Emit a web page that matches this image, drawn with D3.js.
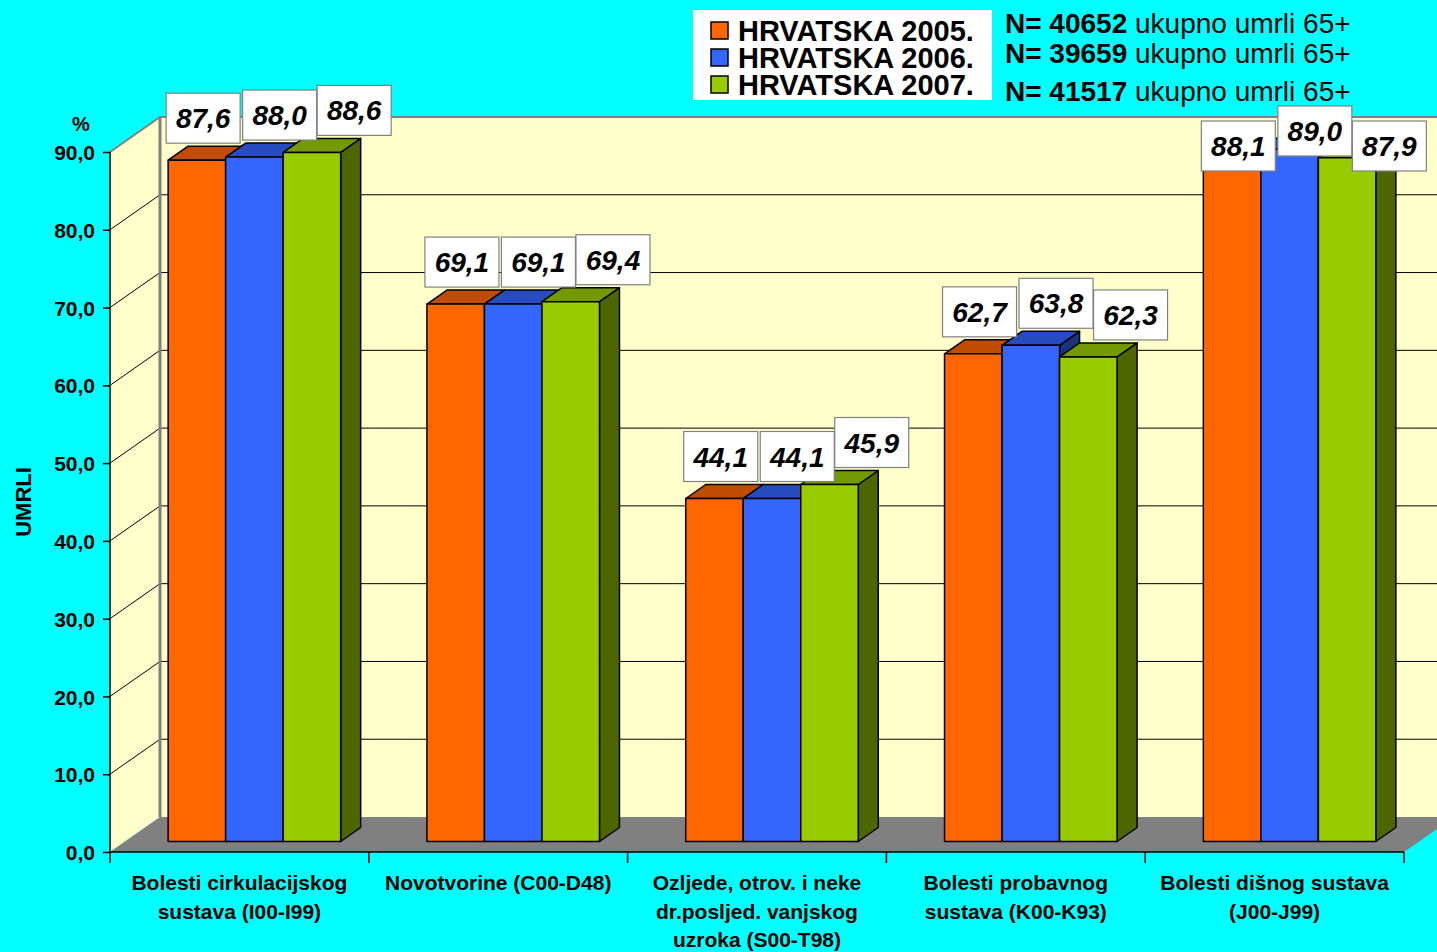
<!DOCTYPE html>
<html><head><meta charset="utf-8">
<script src="https://cdn.jsdelivr.net/npm/d3@7"></script>
<style>
html,body{margin:0;padding:0;background:#00FFFF;overflow:hidden;}
svg{display:block;}
svg text{font-family:"Liberation Sans",Arial,sans-serif;}
</style></head>
<body>
<svg id="c" width="1437" height="952"></svg>
<script>
// ---- data ----
const categories = [
  ["Bolesti cirkulacijskog", "sustava (I00-I99)"],
  ["Novotvorine (C00-D48)"],
  ["Ozljede, otrov. i neke", "dr.posljed. vanjskog", "uzroka (S00-T98)"],
  ["Bolesti probavnog", "sustava (K00-K93)"],
  ["Bolesti dišnog sustava", "(J00-J99)"]
];
const seriesNames = ["HRVATSKA 2005.", "HRVATSKA 2006.", "HRVATSKA 2007."];
const values2005 = [87.6, 69.1, 44.1, 62.7, 88.1];
const values2006 = [88.0, 69.1, 44.1, 63.8, 89.0];
const values2007 = [88.6, 69.4, 45.9, 62.3, 87.9];
const notesBold = ["N= 40652", "N= 39659", "N= 41517"];
const notesRest = ["ukupno umrli 65+", "ukupno umrli 65+", "ukupno umrli 65+"];
const yTicks = [0, 10, 20, 30, 40, 50, 60, 70, 80, 90];
const yUnit = "%";
const yTitle = "UMRLI";

// ---- styles ----
const seriesValues = [values2005, values2006, values2007];
const frontCol = ["#FF6600", "#3366FF", "#99CC00"];
const topCol   = ["#BF4C00", "#264CBF", "#739900"];
const sideCol  = ["#803300", "#1A3380", "#4D6600"];
const fmt = v => v.toFixed(1).replace(".", ",");

const svg = d3.select("#c");
const W = 1437, H = 952;
const DX = 50, DY = -35;          // wall depth
const BOFX = 15, BOFY = -10.5;    // bar offset into depth
const BDX = 20, BDY = -14;        // bar depth

const y = d3.scaleLinear().domain([0, 90]).range([852, 152]);
const x = d3.scaleBand().domain(d3.range(categories.length)).range([110, 1404]);
const xs = d3.scaleBand().domain(d3.range(3)).range([0, x.bandwidth()]).paddingOuter(0.75).paddingInner(0);

const X0 = 110, X1 = 1404, Y0 = y(0), YT = y(90);

// background
svg.append("rect").attr("width", W).attr("height", H).attr("fill", "#00FFFF");

// back wall
svg.append("rect").attr("x", X0 + DX).attr("y", YT + DY).attr("width", X1 - X0 + 10).attr("height", Y0 - YT)
  .attr("fill", "#FFFFCC");
// left wall
svg.append("polygon").attr("points", [[X0, Y0], [X0, YT], [X0 + DX, YT + DY], [X0 + DX, Y0 + DY]].join(" "))
  .attr("fill", "#FFFFCC");

// gridlines
const gl = svg.append("g");
yTicks.filter(t => t > 0 && t < 90).forEach(t => {
  gl.append("line").attr("x1", X0 + DX).attr("x2", W + 20).attr("y1", y(t) + DY).attr("y2", y(t) + DY)
    .attr("stroke", "#000").attr("stroke-width", 1);
  gl.append("line").attr("x1", X0).attr("y1", y(t)).attr("x2", X0 + DX).attr("y2", y(t) + DY)
    .attr("stroke", "#000").attr("stroke-width", 1);
});
// wall edges (gray)
svg.append("polyline").attr("points", [[X0, YT], [X0 + DX, YT + DY], [W + 20, YT + DY]].join(" "))
  .attr("fill", "none").attr("stroke", "#808080").attr("stroke-width", 2);
svg.append("line").attr("x1", X0 + DX).attr("x2", X0 + DX).attr("y1", YT + DY).attr("y2", Y0 + DY)
  .attr("stroke", "#808080").attr("stroke-width", 3);

// floor
svg.append("polygon").attr("points", [[X0, Y0], [X0 + DX, Y0 + DY], [X1 + DX, Y0 + DY], [X1, Y0]].join(" "))
  .attr("fill", "#808080");

// bars
const bars = svg.append("g");
categories.forEach((c, i) => {
  for (let s = 0; s < 3; s++) {
    const v = seriesValues[s][i];
    const bx = x(i) + xs(s) + BOFX, w = xs.bandwidth();
    const b0 = y(0) + BOFY, b1 = y(v) + BOFY;
    const g = bars.append("g").attr("stroke", "#000").attr("stroke-width", 1.5).attr("stroke-linejoin", "round");
    g.append("polygon").attr("fill", sideCol[s])
      .attr("points", [[bx + w, b1], [bx + w + BDX, b1 + BDY], [bx + w + BDX, b0 + BDY], [bx + w, b0]].join(" "));
    g.append("polygon").attr("fill", topCol[s])
      .attr("points", [[bx, b1], [bx + BDX, b1 + BDY], [bx + w + BDX, b1 + BDY], [bx + w, b1]].join(" "));
    g.append("rect").attr("fill", frontCol[s]).attr("x", bx).attr("y", b1).attr("width", w).attr("height", b0 - b1);
  }
});

// axes
const yAxis = d3.axisLeft(y).tickValues(yTicks).tickSize(7).tickFormat(fmt);
const ya = svg.append("g").attr("transform", `translate(${X0},0)`).call(yAxis).attr("font-family", null);
ya.select(".domain").attr("stroke", "#000").attr("stroke-width", 1.5).attr("d", `M0,${YT}V${Y0}`);
ya.selectAll(".tick line").attr("stroke", "#000").attr("stroke-width", 1.5);
ya.selectAll(".tick text").attr("font-size", 21).attr("font-weight", "bold").attr("fill", "#000")
  .attr("x", -15).attr("dy", "0.36em");

const xa = svg.append("g").attr("transform", `translate(0,${Y0})`)
  .call(d3.axisBottom(x).tickSize(0).tickFormat(""));
xa.select(".domain").attr("stroke", "#000").attr("stroke-width", 1.5).attr("d", `M${X0},0H${X1}`);
d3.range(categories.length + 1).forEach(k => {
  const tx = k < categories.length ? x(k) : X1;
  xa.append("line").attr("x1", tx).attr("x2", tx).attr("y1", 0).attr("y2", 11).attr("stroke", "#000").attr("stroke-width", 1.5);
});

// category labels
categories.forEach((lines, i) => {
  const t = svg.append("text").attr("text-anchor", "middle").attr("font-size", 21).attr("font-weight", "bold").attr("fill", "#000");
  lines.forEach((ln, k) => {
    t.append("tspan").attr("x", x(i) + x.bandwidth() / 2).attr("y", 890 + k * 28.5).text(ln);
  });
});

// y unit & title
svg.append("text").attr("x", 81).attr("y", 131).attr("text-anchor", "middle").attr("font-size", 20)
  .attr("font-weight", "bold").text(yUnit);
svg.append("text").attr("transform", "translate(31,502) rotate(-90)").attr("text-anchor", "middle")
  .attr("font-size", 22).attr("font-weight", "bold").text(yTitle);

// legend
const lg = svg.append("g");
lg.append("rect").attr("x", 693).attr("y", 10).attr("width", 299).attr("height", 90).attr("fill", "#fff");
seriesNames.forEach((n, s) => {
  const bl = [41, 68, 95][s];
  lg.append("rect").attr("x", 711).attr("y", bl - 19).attr("width", 17).attr("height", 17)
    .attr("fill", frontCol[s]).attr("stroke", "#000").attr("stroke-width", 1.5);
  lg.append("text").attr("x", 738).attr("y", bl).attr("font-size", 29).attr("font-weight", "bold").text(n);
});

// notes
const notesBaselines = [33, 63, 101];
notesBold.forEach((b, k) => {
  const t = svg.append("text").attr("x", 1005).attr("y", notesBaselines[k]).attr("font-size", 28);
  t.append("tspan").attr("font-weight", "bold").text(b + " ");
  t.append("tspan").text(notesRest[k]);
});

// data labels
const lblOff = [-2, 17, 34];
const BW = 74, BH = 50;
const labels = svg.append("g");
categories.forEach((c, i) => {
  for (let s = 0; s < 3; s++) {
    const v = seriesValues[s][i];
    const bx = x(i) + xs(s) + BOFX;
    const lx = bx + lblOff[s];
    let top = y(v) + BOFY - 17 - BH;
    if (top < 104 && lx + BW > 1000) top = 106 + (s === 1 ? 0 : 15);
    labels.append("rect").attr("x", lx).attr("y", top).attr("width", BW).attr("height", BH)
      .attr("fill", "#fff").attr("stroke", "#808080").attr("stroke-width", 1.2);
    labels.append("text").attr("x", lx + BW / 2).attr("y", top + 35).attr("text-anchor", "middle")
      .attr("font-size", 28).attr("font-weight", "bold").attr("font-style", "italic").text(fmt(v));
  }
});
</script>
</body></html>
